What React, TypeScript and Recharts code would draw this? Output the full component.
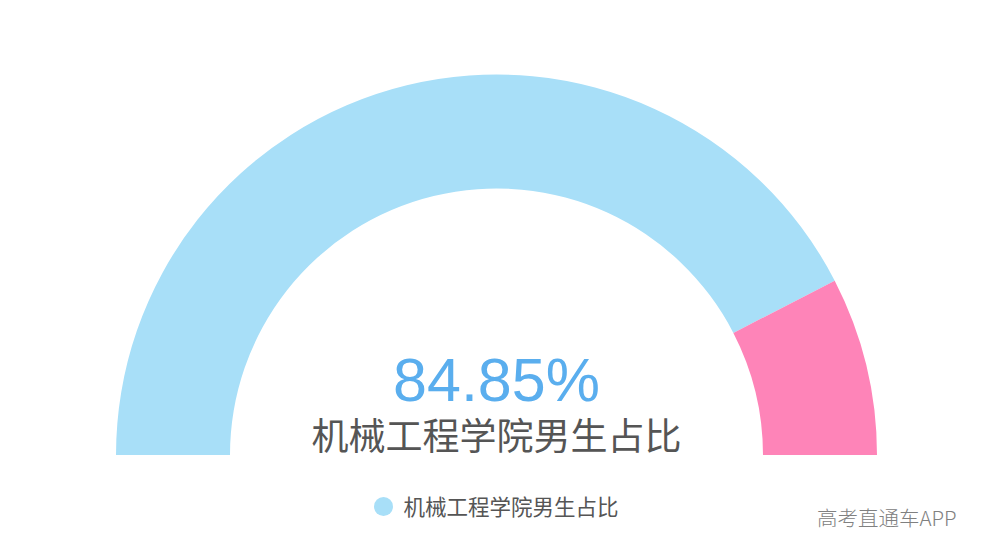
import React from 'react';
import { PieChart, Pie, Cell, Legend, Label } from 'recharts';

const categories = ['机械工程学院男生占比', '女生占比'];
const values = [84.85, 15.15];
const colors = ['#a8dff8', '#fe84b8'];
const percentText = '84.85%';
const titleText = '机械工程学院男生占比';
const watermark = '高考直通车APP';

const data = categories.map((name, i) => ({ name, value: values[i] }));

const CenterLabel = (props: any) => {
  const vb = props.viewBox || {};
  const cx = vb.cx ?? 496.5;
  const cy = vb.cy ?? 455;
  return (
    <g>
      <text
        x={cx}
        y={cy - 54}
        textAnchor="middle"
        fill="#5aaeee"
        fontSize={61}
        fontFamily="'Liberation Sans', Arial, sans-serif"
      >
        {percentText}
      </text>
      <text
        x={cx}
        y={cy - 5}
        textAnchor="middle"
        fill="#555555"
        fontSize={37}
        fontFamily="'Noto Sans CJK SC', sans-serif"
      >
        {titleText}
      </text>
    </g>
  );
};

const LegendContent = () => (
  <div
    style={{
      display: 'flex',
      justifyContent: 'center',
      alignItems: 'center',
      fontFamily: "'Noto Sans CJK SC', sans-serif",
    }}
  >
    <span
      style={{
        display: 'inline-block',
        width: 19,
        height: 19,
        borderRadius: '50%',
        background: colors[0],
        marginRight: 10,
      }}
    />
    <span style={{ fontSize: 21.5, color: '#555555', lineHeight: '24px' }}>{categories[0]}</span>
  </div>
);

export default function App() {
  return (
    <div style={{ position: 'absolute', left: 0, top: 0, width: 993, height: 560, background: '#ffffff' }}>
      <PieChart width={993} height={560} margin={{ top: 0, right: 0, bottom: 0, left: 0 }}>
        <Pie
          data={data}
          dataKey="value"
          nameKey="name"
          cx={496.5}
          cy={455}
          innerRadius={266.5}
          outerRadius={380.5}
          startAngle={180}
          endAngle={0}
          stroke="none"
          isAnimationActive={false}
        >
          {data.map((d, i) => (
            <Cell key={d.name} fill={colors[i]} stroke="none" />
          ))}
          <Label content={<CenterLabel />} position="center" />
        </Pie>
        <Legend
          content={<LegendContent />}
          wrapperStyle={{ position: 'absolute', left: 0, top: 494, width: 993, bottom: 'auto' }}
        />
      </PieChart>
      <div
        style={{
          position: 'absolute',
          left: 817,
          top: 504,
          fontSize: 20.5,
          color: '#808080',
          fontFamily: "'Noto Sans CJK SC', sans-serif",
          fontWeight: 300,
          lineHeight: '26px',
          whiteSpace: 'nowrap',
        }}
      >
        {watermark}
      </div>
    </div>
  );
}
